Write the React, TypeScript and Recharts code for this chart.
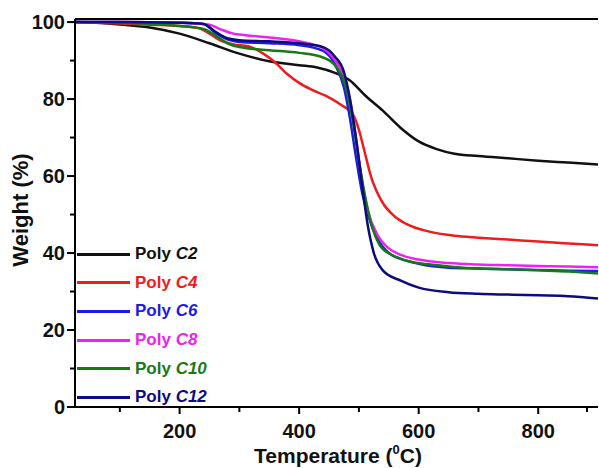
import React from "react";
import { LineChart, Line, XAxis, YAxis, ReferenceLine, Label } from "recharts";

// TGA curves, temperature (°C) vs weight (%)
const c2Temp = [25, 100, 150, 200, 250, 300, 350, 400, 430, 460, 485, 510, 540, 570, 600, 630, 660, 700, 750, 800, 850, 900];
const c2Weight = [100, 99.4, 98.6, 97, 94.5, 91.8, 89.8, 88.8, 88.2, 86.8, 84.8, 81, 77, 72.5, 69, 67, 65.8, 65.2, 64.6, 64, 63.5, 63];

const c4Temp = [25, 100, 150, 200, 230, 250, 265, 290, 315, 340, 360, 380, 400, 420, 445, 470, 490, 500, 510, 520, 540, 560, 580, 620, 660, 700, 750, 800, 850, 900];
const c4Weight = [100, 99.6, 99.3, 99, 98.5, 97, 95.5, 94.2, 93.7, 91.8, 89.5, 86.5, 84.2, 82.5, 80.8, 78.5, 76, 72, 66, 60, 53, 49.5, 47.5, 45.5, 44.5, 44, 43.5, 43, 42.5, 42];

const c6Temp = [25, 100, 200, 240, 260, 280, 300, 350, 400, 440, 460, 475, 485, 495, 505, 515, 530, 550, 570, 600, 650, 700, 750, 800, 850, 900];
const c6Weight = [100, 100, 99.8, 99.5, 97.2, 95.5, 94.8, 94.5, 94, 92.5, 89, 83, 75, 65, 56, 50, 44, 40, 38.5, 37.2, 36.2, 36, 35.8, 35.6, 35.4, 35.3];

const c8Temp = [25, 100, 200, 250, 270, 290, 310, 350, 400, 440, 460, 475, 485, 495, 505, 515, 530, 550, 570, 600, 650, 700, 750, 800, 850, 900];
const c8Weight = [100, 100, 99.9, 99.3, 98, 97, 96.6, 96, 95, 93.2, 90, 86, 80, 70, 59, 51, 45, 41.2, 39.5, 38.3, 37.4, 37, 36.8, 36.6, 36.5, 36.3];

const c10Temp = [25, 100, 160, 200, 240, 260, 280, 300, 350, 400, 440, 465, 480, 490, 500, 510, 520, 535, 555, 580, 620, 660, 700, 750, 800, 850, 900];
const c10Weight = [100, 99.8, 99.5, 99, 98.2, 96.5, 94.5, 93.5, 92.7, 92, 90.8, 87.8, 82, 74, 64, 55, 48, 42, 39.5, 38, 37, 36.4, 36, 35.8, 35.5, 35.2, 34.7];

const c12Temp = [25, 100, 200, 240, 260, 280, 300, 350, 400, 440, 460, 475, 485, 495, 505, 515, 525, 540, 570, 600, 650, 700, 750, 800, 850, 900];
const c12Weight = [100, 100, 99.8, 99.5, 97.5, 95.8, 95.3, 95, 94.5, 93.5, 91, 87, 80, 70, 58, 47, 40, 35.5, 32.8, 31, 29.8, 29.4, 29.2, 29, 28.8, 28.2];

const xTicks = [100, 200, 300, 400, 500, 600, 700, 800, 900];
const yTicks = [0, 10, 20, 30, 40, 50, 60, 70, 80, 90, 100];

const toPoints = (temps: number[], weights: number[]) => temps.map((t, i) => ({ t, w: weights[i] }));

const series = [
  { id: "C2", color: "#111111", data: toPoints(c2Temp, c2Weight) },
  { id: "C4", color: "#ee1c1c", data: toPoints(c4Temp, c4Weight) },
  { id: "C6", color: "#1c1ce6", data: toPoints(c6Temp, c6Weight) },
  { id: "C8", color: "#ee22ee", data: toPoints(c8Temp, c8Weight) },
  { id: "C10", color: "#167a16", data: toPoints(c10Temp, c10Weight) },
  { id: "C12", color: "#0c0c7c", data: toPoints(c12Temp, c12Weight) },
];

const FONT = '"Liberation Sans", Arial, sans-serif';

const YTick = (props: any) => {
  const { x, y, payload } = props;
  const major = payload.value % 20 === 0;
  return (
    <g>
      <line x1={x - (major ? 8 : 5)} x2={x} y1={y} y2={y} stroke="#000" strokeWidth={2} />
      {major && (
        <text x={x - 10} y={y + 7} textAnchor="end" fontSize={20} fontWeight="bold" fontFamily={FONT} fill="#111">
          {payload.value}
        </text>
      )}
    </g>
  );
};

const XTick = (props: any) => {
  const { x, y, payload } = props;
  const major = payload.value % 200 === 0;
  return (
    <g>
      <line x1={x} x2={x} y1={y} y2={y + (major ? 7 : 5)} stroke="#000" strokeWidth={2} />
      {major && (
        <text x={x} y={y + 31} textAnchor="middle" fontSize={20} fontWeight="bold" fontFamily={FONT} fill="#111">
          {payload.value}
        </text>
      )}
    </g>
  );
};

export default function App() {
  return (
    <div style={{ position: "absolute", left: 0, top: 0, width: 599, height: 468, background: "#fff", fontFamily: FONT }}>
      <LineChart width={599} height={468} margin={{ top: 19, right: 1, left: 25, bottom: 21 }}>
        <XAxis
          type="number"
          dataKey="t"
          domain={[25, 900]}
          ticks={xTicks}
          allowDataOverflow
          height={40}
          tickSize={0}
          tickMargin={0}
          tick={<XTick />}
          axisLine={{ stroke: "#000", strokeWidth: 2 }}
        >
          <Label
            content={() => (
              <text x={338} y={463} textAnchor="middle" fontSize={21} fontWeight="bold" fontFamily={FONT} fill="#111">
                Temperature (<tspan fontSize={13} dy={-9}>0</tspan>
                <tspan dy={9}>C)</tspan>
              </text>
            )}
          />
        </XAxis>
        <YAxis
          type="number"
          domain={[0, 100.8]}
          ticks={yTicks}
          allowDataOverflow
          width={50}
          tickSize={0}
          tickMargin={0}
          tick={<YTick />}
          axisLine={{ stroke: "#000", strokeWidth: 2 }}
        >
          <Label
            content={() => (
              <text
                x={20}
                y={210}
                transform="rotate(-90, 20, 210)"
                dy={8}
                textAnchor="middle"
                fontSize={22}
                fontWeight="bold"
                fontFamily={FONT}
                fill="#111"
              >
                Weight (%)
              </text>
            )}
          />
        </YAxis>
        <ReferenceLine y={100.8} stroke="#000" strokeWidth={2} />
        {series.map((s) => (
          <Line
            key={s.id}
            data={s.data}
            dataKey="w"
            type="monotone"
            stroke={s.color}
            strokeWidth={2.5}
            dot={false}
            isAnimationActive={false}
          />
        ))}
      </LineChart>
      <div style={{ position: "absolute", left: 77, top: 240 }}>
        {series.map((s) => (
          <div key={s.id} style={{ display: "flex", alignItems: "center", height: 28.6 }}>
            <div style={{ width: 53, height: 3, background: s.color }} />
            <span style={{ marginLeft: 5, fontSize: 17, fontWeight: "bold", color: s.color }}>
              Poly <i>{s.id}</i>
            </span>
          </div>
        ))}
      </div>
    </div>
  );
}
